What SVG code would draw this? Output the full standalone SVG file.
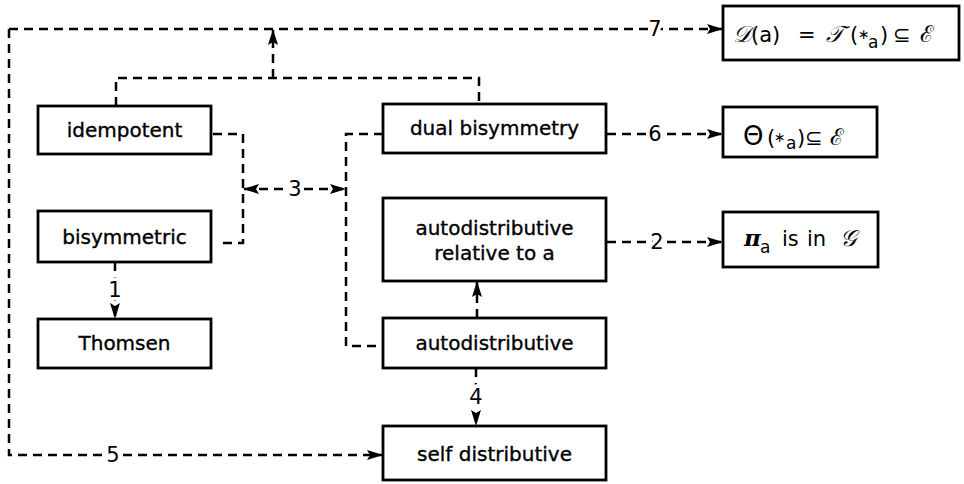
<svg xmlns="http://www.w3.org/2000/svg" width="964" height="484" viewBox="0 0 964 484">
  <style>
    .box { fill: #fff; stroke: #000; stroke-width: 2.8; }
    .lbl { font-family: "DejaVu Sans", "Liberation Sans", sans-serif; font-size: 20px; fill: #000; text-anchor: middle;
           stroke: #000; stroke-width: 0.35px; }
    .num { font-family: "DejaVu Sans", "Liberation Sans", sans-serif; font-size: 21px; fill: #000; text-anchor: middle;
           stroke: #fff; stroke-width: 7px; paint-order: stroke; }
    .math { font-family: "DejaVu Sans", "Liberation Sans", sans-serif; font-size: 21px; fill: #000; }
    .sub { font-size: 17px; }
    .ast { font-size: 14px; }
    .scr { font-family: "DejaVu Serif", "Noto Sans", serif; font-style: italic; font-size: 23px; }
    .link { fill: none; stroke: #000; stroke-width: 2.5; stroke-dasharray: 9 6; }
  </style>
  <defs>
    <marker id="ah" viewBox="0 0 16 10" refX="15" refY="5" markerWidth="16" markerHeight="10"
            markerUnits="userSpaceOnUse" orient="auto-start-reverse">
      <path d="M0,0 L16,5 L0,10 L3,5 z" fill="#000"/>
    </marker>
  </defs>
  <rect width="964" height="484" fill="#fff"/>

  <!-- connectors -->
  <g id="connectors">
    <!-- bracket joining idempotent and dual bisymmetry -->
    <path class="link" d="M116,106 V78 H479 V104"/>
    <path class="link" d="M273,78 V30" marker-end="url(#ah)"/>
    <!-- 7: to D(a) -->
    <path class="link" d="M9,29 H722" marker-end="url(#ah)"/>
    <!-- 5: to self distributive -->
    <path class="link" d="M9,29 V455 H382" marker-end="url(#ah)"/>
    <!-- 3: bracket pair -->
    <path class="link" d="M213,134 H243 V243 H217"/>
    <path class="link" d="M383,134 H346 V346 H383"/>
    <path class="link" d="M244,189 H345" marker-start="url(#ah)" marker-end="url(#ah)"/>
    <!-- 1 -->
    <path class="link" d="M115,262 V318" marker-end="url(#ah)"/>
    <!-- autodistributive -> relative to a -->
    <path class="link" d="M477,318 V282" marker-end="url(#ah)"/>
    <!-- 4 -->
    <path class="link" d="M476,368 V425" marker-end="url(#ah)"/>
    <!-- 6 -->
    <path class="link" d="M607,134 H722" marker-end="url(#ah)"/>
    <!-- 2 -->
    <path class="link" d="M607,242 H722" marker-end="url(#ah)"/>

    <text class="num" x="655" y="36">7</text>
    <text class="num" x="113" y="462">5</text>
    <text class="num" x="295" y="196">3</text>
    <text class="num" x="115" y="297">1</text>
    <text class="num" x="476" y="404">4</text>
    <text class="num" x="655" y="141">6</text>
    <text class="num" x="657" y="249">2</text>
  </g>

  <g id="n-idempotent">
    <rect class="box" x="38" y="106" width="173" height="48"/>
    <text class="lbl" x="124.5" y="137">idempotent</text>
  </g>
  <g id="n-bisymmetric">
    <rect class="box" x="38" y="211" width="173" height="51"/>
    <text class="lbl" x="124.5" y="244">bisymmetric</text>
  </g>
  <g id="n-thomsen">
    <rect class="box" x="38" y="319" width="173" height="49"/>
    <text class="lbl" x="124.5" y="350">Thomsen</text>
  </g>
  <g id="n-dual-bisymmetry">
    <rect class="box" x="383" y="104" width="223" height="49"/>
    <text class="lbl" x="494.5" y="135">dual bisymmetry</text>
  </g>
  <g id="n-autodistributive-rel">
    <rect class="box" x="383" y="198" width="223" height="83"/>
    <text class="lbl" x="494.5" y="235">autodistributive</text>
    <text class="lbl" x="494.5" y="260">relative to a</text>
  </g>
  <g id="n-autodistributive">
    <rect class="box" x="383" y="318" width="223" height="50"/>
    <text class="lbl" x="494.5" y="350">autodistributive</text>
  </g>
  <g id="n-self-distributive">
    <rect class="box" x="383" y="426" width="223" height="54"/>
    <text class="lbl" x="494.5" y="461">self distributive</text>
  </g>

  <g id="n-D">
    <rect class="box" x="723" y="6" width="236" height="54"/>
    <text class="math" y="42">
      <tspan x="733" class="scr">𝒟</tspan><tspan x="751">(a)</tspan><tspan x="798">=</tspan><tspan x="826" class="scr">𝒯</tspan><tspan x="850">(</tspan><tspan x="858" class="ast" dy="-3">∗</tspan><tspan x="868" class="sub" dy="9">a</tspan><tspan x="880" dy="-6">)</tspan><tspan x="893">⊆</tspan><tspan x="920" class="scr">ℰ</tspan>
    </text>
  </g>
  <g id="n-theta">
    <rect class="box" x="723" y="107" width="154" height="50"/>
    <text class="math" y="145">
      <tspan x="743" font-size="26">Θ</tspan><tspan x="767">(</tspan><tspan x="774" class="ast" dy="-3">∗</tspan><tspan x="786" class="sub" dy="7">a</tspan><tspan x="797" dy="-4">)</tspan><tspan x="805">⊆</tspan><tspan x="830" class="scr">ℰ</tspan>
    </text>
  </g>
  <g id="n-pi">
    <rect class="box" x="723" y="212" width="155" height="55"/>
    <text class="math" y="246">
      <tspan x="744" class="scr" font-weight="bold" font-size="24">π</tspan><tspan x="760" class="sub" dy="7">a</tspan><tspan x="782" dy="-7">is</tspan><tspan x="807">in</tspan><tspan x="840" class="scr">𝒢</tspan>
    </text>
  </g>
</svg>
